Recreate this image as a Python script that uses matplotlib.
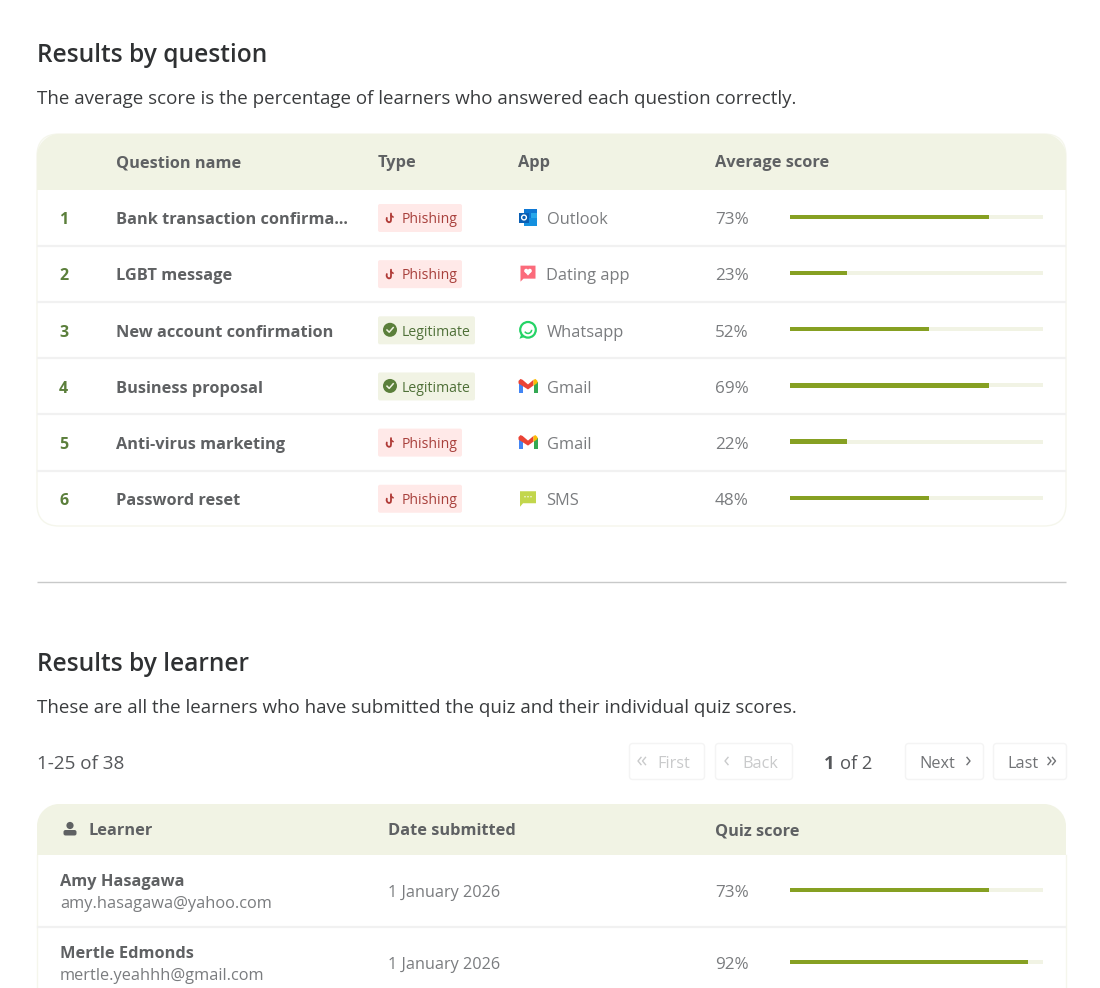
import matplotlib
matplotlib.use("Agg")
import matplotlib.pyplot as plt
from matplotlib.patches import FancyBboxPatch, Rectangle, Circle, Polygon, Wedge, PathPatch
from matplotlib.path import Path

plt.rcParams['font.family'] = ['Open Sans', 'DejaVu Sans']

# ---------- data ----------
question_names = ["Bank transaction confirma...", "LGBT message", "New account confirmation",
                  "Business proposal", "Anti-virus marketing", "Password reset"]
question_types = ["Phishing", "Phishing", "Legitimate", "Legitimate", "Phishing", "Phishing"]
question_apps = ["Outlook", "Dating app", "Whatsapp", "Gmail", "Gmail", "SMS"]
question_scores = [73, 23, 52, 69, 22, 48]
question_bar_fill = [78.5, 22.5, 55, 78.5, 22.5, 55]

learner_names = ["Amy Hasagawa", "Mertle Edmonds"]
learner_emails = ["amy.hasagawa@yahoo.com", "mertle.yeahhh@gmail.com"]
learner_dates = ["1 January 2026", "1 January 2026"]
learner_scores = [73, 92]
learner_bar_fill = [78.5, 94]

question_headers = ["Question name", "Type", "App", "Average score"]
learner_headers = ["Learner", "Date submitted", "Quiz score"]

# ---------- colours ----------
INK = "#2f3133"
HEAD = "#5f6163"
BODY = "#7a7c7f"
TEXT = "#3a3c3e"
CREAM = "#f1f3e4"
EDGE = "#f5f6ec"
ROWLINE = "#f1f1f1"
OLIVE = "#86a022"
GREEN = "#5b7f3b"

W, H = 1100, 988
fig = plt.figure(figsize=(W / 100, H / 100), dpi=100, facecolor="white")
ax = fig.add_axes([0, 0, 1, 1])
ax.set_xlim(0, W)
ax.set_ylim(H, 0)
ax.axis("off")


def txt(x, y, s, size=11.8, color=BODY, weight="normal", ha="left", z=5):
    """y is the visual centre of the text line."""
    return ax.text(x, y + 1.8, s, fontsize=size, color=color, fontweight=weight, ha=ha, va="center", zorder=z)


def rbox(x, y, w, h, r, fc, ec="none", lw=0.0, z=2):
    p = FancyBboxPatch((x + r, y + r), w - 2 * r, h - 2 * r, boxstyle=f"round,pad={r},rounding_size={r}",
                       fc=fc, ec=ec, lw=lw, zorder=z)
    ax.add_patch(p)
    return p


def card(x, top, w, bottom, head_bottom, r, open_bottom=False):
    """Card with cream header, rounded top corners and light outline."""
    k = r * 0.45
    verts = [(x, head_bottom), (x, top + r), (x, top + k), (x + k, top), (x + r, top),
             (x + w - r, top), (x + w - k, top), (x + w, top + k), (x + w, top + r),
             (x + w, head_bottom), (x, head_bottom)]
    codes = [Path.MOVETO, Path.LINETO, Path.CURVE4, Path.CURVE4, Path.CURVE4,
             Path.LINETO, Path.CURVE4, Path.CURVE4, Path.CURVE4, Path.LINETO, Path.CLOSEPOLY]
    ax.add_patch(PathPatch(Path(verts, codes), fc=CREAM, ec="none", zorder=3))
    if open_bottom:
        ax.plot([x, x], [head_bottom, bottom], color=EDGE, lw=1.0, zorder=2)
        ax.plot([x + w, x + w], [head_bottom, bottom], color=EDGE, lw=1.0, zorder=2)
    else:
        rbox(x, top, w, bottom - top, r, "white", ec=EDGE, lw=1.0, z=2)


def bars(row_y, fill):
    left, right = 790, 1043
    bax = fig.add_axes([left / W, 0, (right - left) / W, 1], facecolor="none", zorder=6)
    bax.set_xlim(0, 100)
    bax.set_ylim(H, 0)
    bax.axis("off")
    bax.barh(row_y, [100] * len(fill), height=4, color=CREAM, zorder=1)
    bax.barh(row_y, fill, height=4.4, color=OLIVE, zorder=2)


def hook(cx, cy):
    c = "#b03a36"
    xs = [cx + 1, cx + 1, cx + 0.6, cx - 1.0, cx - 2.6, cx - 3.4, cx - 3.2]
    ys = [cy - 5, cy + 1.5, cy + 3.2, cy + 3.8, cy + 3.0, cy + 1.2, cy - 0.6]
    ax.plot(xs, ys, color=c, lw=1.3, zorder=6, solid_capstyle="round")
    ax.plot([cx + 1, cx + 3], [cy - 3, cy - 1.5], color=c, lw=1.1, zorder=6)


def check(cx, cy):
    ax.add_patch(Circle((cx, cy), 7, fc=GREEN, ec="none", zorder=6))
    ax.plot([cx - 3, cx - 0.8, cx + 3.2], [cy + 0.2, cy + 2.4, cy - 2.2], color=CREAM, lw=1.1, zorder=7)


def badge(y, kind):
    if kind == "Phishing":
        rbox(378, y - 14, 84, 28, 2, "#ffe9e8")
        hook(390, y + 0.5)
        txt(402, y, kind, 10.1, "#a8403c")
    else:
        rbox(378, y - 14, 97, 28, 2, CREAM)
        check(390, y - 0.5)
        txt(402, y, kind, 10.1, "#4f7038")


def outlook(cx, cy):
    ax.add_patch(Rectangle((cx - 4, cy - 9), 13, 9, fc="#0f78d4", ec="none", zorder=6))
    ax.add_patch(Rectangle((cx + 3, cy - 5), 6, 5, fc="#28a8ea", ec="none", zorder=6))
    ax.add_patch(Rectangle((cx - 4, cy), 13, 8, fc="#1490df", ec="none", zorder=6))
    ax.add_patch(Rectangle((cx - 9, cy - 5), 10, 10, fc="#0a5fb4", ec="none", zorder=7))
    ax.add_patch(Circle((cx - 4, cy), 2.4, fc="none", ec="white", lw=1.0, zorder=8))


def dating(cx, cy):
    ax.add_patch(Polygon([(cx - 7.5, cy - 8), (cx + 7.5, cy - 8), (cx + 7.5, cy + 5), (cx - 4.5, cy + 5),
                          (cx - 7.5, cy + 8)], fc="#fb6b7b", ec="none", zorder=6))
    hx, hy = cx, cy - 1.5
    ax.add_patch(Circle((hx - 1.8, hy - 1.4), 2.0, fc="white", ec="none", zorder=7))
    ax.add_patch(Circle((hx + 1.8, hy - 1.4), 2.0, fc="white", ec="none", zorder=7))
    ax.add_patch(Polygon([(hx - 3.7, hy - 0.7), (hx + 3.7, hy - 0.7), (hx, hy + 3.4)], fc="white", ec="none", zorder=7))


def whatsapp(cx, cy):
    c = "#25d366"
    ax.add_patch(Circle((cx, cy), 7.8, fc="white", ec=c, lw=1.6, zorder=6))
    ax.add_patch(Polygon([(cx - 8.5, cy + 9), (cx - 6.4, cy + 3.5), (cx - 3, cy + 7)], fc=c, ec="none", zorder=6))
    ax.add_patch(Wedge((cx, cy), 4.4, 0, 150, width=1.6, fc=c, ec="none", zorder=7))


def gmail(cx, cy):
    l, r, t, b = cx - 9.5, cx + 9.5, cy - 7, cy + 7
    ax.add_patch(Rectangle((l, t + 3), 4, b - t - 3, fc="#4285f4", ec="none", zorder=6))
    ax.add_patch(Rectangle((r - 4, t + 3), 4, b - t - 3, fc="#34a853", ec="none", zorder=6))
    ax.add_patch(Polygon([(l, t + 2), (l + 2, t), (l + 4, t + 0.8), (cx, t + 5.5), (r - 4, t + 0.8),
                          (r - 4, t + 6.5), (cx, t + 10.5), (l, t + 4.5)], fc="#ea4335", ec="none", zorder=7))
    ax.add_patch(Polygon([(r - 4, t + 0.8), (r - 2, t), (r, t + 2), (r, t + 4), (r - 4, t + 6.8)],
                         fc="#fbbc04", ec="none", zorder=7))


def sms(cx, cy):
    ax.add_patch(Polygon([(cx - 8, cy - 7), (cx + 8, cy - 7), (cx + 8, cy + 5), (cx - 5, cy + 5),
                          (cx - 8, cy + 8.5)], fc="#c2d64c", ec="none", zorder=6))
    for d in (-3, 0, 3):
        ax.add_patch(Circle((cx + d, cy - 1.5), 0.7, fc="white", ec="none", zorder=7))


def chevron(x, y, direction, color, n=1):
    for k in range(n):
        dx = k * 4.5
        tip, back = (x + dx, x + dx + 3) if direction < 0 else (x + dx + 3, x + dx)
        ax.plot([back, tip, back], [y - 3.6, y, y + 3.6], color=color, lw=1.0, zorder=6)


ICONS = {"Outlook": outlook, "Dating app": dating, "Whatsapp": whatsapp, "Gmail": gmail, "SMS": sms}

# ---------- section 1 ----------
txt(37, 54, "Results by question", 17.65, INK, "semibold")
txt(37, 97.5, "The average score is the percentage of learners who answered each question correctly.", 13.47, TEXT)

card(37, 134, 1029, 526, 190, 22)
q_head_x = [116, 378, 518.5, 715]
for x, s in zip(q_head_x, question_headers):
    txt(x, 161.5, s, 11.8, HEAD, "bold")

row_y = [217.5 + 56.15 * i for i in range(6)]
for i, y in enumerate(row_y):
    txt(59, y + 1, str(i + 1), 11.5, GREEN, "bold")
    txt(116, y + 1, question_names[i], 11.8, HEAD, "bold")
    badge(y + 0.5, question_types[i])
    ICONS[question_apps[i]](528, y)
    txt(546.5, y + 1, question_apps[i], 11.8, BODY)
    txt(715, y + 1, f"{question_scores[i]}%", 12.3, BODY)
    if i < 5:
        ax.plot([38, 1065], [y + 28.5, y + 28.5], color=ROWLINE, lw=1.6, zorder=3)
bars([y - 0.5 for y in row_y], question_bar_fill)

ax.plot([37, 1066], [582, 582], color="#c8c9c9", lw=1.0, zorder=2, solid_capstyle="butt")

# ---------- section 2 ----------
txt(37, 663, "Results by learner", 17.65, INK, "semibold")
txt(37, 706.5, "These are all the learners who have submitted the quiz and their individual quiz scores.", 13.47, TEXT)
txt(37, 762, "1-25 of 38", 13.6, "#55575a")

# pager
DIM = "#c9cacb"
ACT = "#707275"
for x, w in [(629.5, 75), (715.5, 77), (905.5, 78), (993.5, 73)]:
    rbox(x, 743.5, w, 36, 3, "white", ec="#f4f4f4", lw=1.0)
chevron(638, 761, -1, DIM, 2)
txt(657.5, 762, "First", 11.7, DIM)
chevron(725, 761, -1, DIM, 1)
txt(742.5, 762, "Back", 11.7, DIM)
txt(824, 762, "1", 13.2, "#55575a", "bold")
txt(840, 762, "of 2", 13.2, "#55575a")
txt(919, 762, "Next", 11.7, ACT)
chevron(967, 761, 1, ACT, 1)
txt(1007, 762, "Last", 11.7, ACT)
chevron(1048, 761, 1, ACT, 2)

card(37, 804, 1029, 988, 855, 22, open_bottom=True)
ax.add_patch(Circle((70, 825.5), 3.6, fc=HEAD, ec="none", zorder=6))
ax.add_patch(FancyBboxPatch((64.5, 831), 11, 3.5, boxstyle="round,pad=1,rounding_size=2", fc=HEAD, ec="none", zorder=6))
l_head_x = [88, 388, 715]
for x, s in zip(l_head_x, learner_headers):
    txt(x, 829.5, s, 11.75, HEAD, "bold")

l_row_y = [890, 962]
for i, y in enumerate(l_row_y):
    txt(60, y - 9.5, learner_names[i], 11.75, HEAD, "bold")
    txt(60, y + 12, learner_emails[i], 11.8, BODY)
    txt(388, y + 1, learner_dates[i], 11.7, BODY)
    txt(715, y + 1, f"{learner_scores[i]}%", 12.3, BODY)
ax.plot([38, 1065], [927, 927], color=ROWLINE, lw=1.6, zorder=3)
bars(l_row_y, learner_bar_fill)

fig.savefig("out.png", dpi=100, facecolor="white")
